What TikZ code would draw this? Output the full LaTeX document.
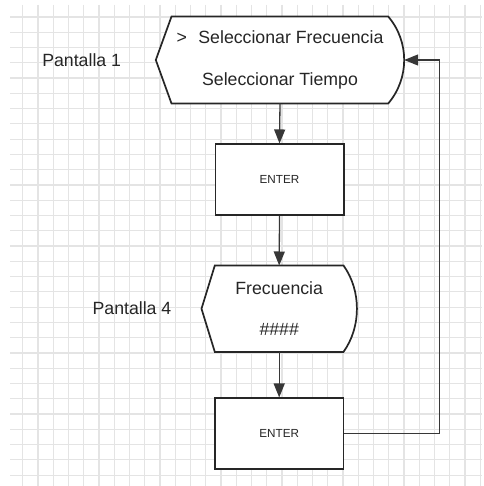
\documentclass[tikz,border=0pt]{standalone}
\usepackage{fontspec}
\setmainfont{Liberation Sans}
\usetikzlibrary{arrows.meta,calc,backgrounds}
\definecolor{gridgray}{RGB}{228,228,228}
\definecolor{ink}{RGB}{38,38,38}
\definecolor{wire}{RGB}{55,55,55}

% outline of a display symbol: slanted left point, bulging right side
% #1 node name, #2 left inset, #3 right inset, #4 bulge of the control points
\newcommand\drawdisplay[4]{%
  \draw[displine] (#1.west)
    -- ($(#1.north west)+(#2,0)$)
    -- ($(#1.north east)+(-#3,0)$)
    .. controls ($(#1.north east)+(#4,25)$) and ($(#1.south east)+(#4,-25)$) ..
       ($(#1.south east)+(-#3,0)$)
    -- ($(#1.south west)+(#2,0)$)
    -- cycle;}

\begin{document}
\begin{tikzpicture}[x=1pt,y=-1pt,
  displine/.style={draw=ink, line width=1.7pt, fill=white, line join=miter},
  dispnode/.style={inner sep=0pt, align=center, text=ink,
    font=\fontsize{17.7}{41.5}\selectfont},
  stepbox/.style={draw=ink, line width=1.7pt, fill=white, inner sep=0pt,
    minimum width=128.3pt, minimum height=71pt, text=ink,
    font=\fontsize{11.7}{14}\selectfont},
  sidetext/.style={inner sep=0pt, text=ink, font=\fontsize{17.7}{20}\selectfont},
  flow/.style={draw=wire, line width=1.3pt, -{Triangle[length=14pt,width=11pt]}}
]
\useasboundingbox (0,0) rectangle (483,486);

% squared paper
\begin{scope}[on background layer]
  \fill[white] (0,0) rectangle (483,486);
  \foreach \k in {0,...,30} {
    \draw[gridgray, line width=1.2pt] (22.7+15.25*\k,5) -- (22.7+15.25*\k,486);
    \draw[gridgray, line width=1.2pt] (10,17+15.27*\k) -- (482,17+15.27*\k);
  }
\end{scope}

% screens
\node[dispnode, minimum width=248pt, minimum height=86.6pt] (p1) at (280,60)
  {\textgreater\hspace{11.5pt}Seleccionar Frecuencia\\Seleccionar Tiempo};
\node[dispnode, minimum width=155pt, minimum height=86pt] (p4) at (279.2,308.7)
  {Frecuencia\\\#\#\#\#};

\begin{scope}[on background layer]
  \drawdisplay{p1}{15.7}{16}{5.3}
  \drawdisplay{p4}{13.3}{13.4}{4.5}
\end{scope}

% screen captions
\node[sidetext] (lab1) at (81.7,60) {Pantalla 1};
\node[sidetext] (lab4) at (132,308.3) {Pantalla 4};

% key presses
\node[stepbox] (e1) at (279.5,179.8) {ENTER};
\node[stepbox] (e2) at (279.2,433.8) {ENTER};

% flow
\draw[flow] (p1.south) -- (e1.north);
\draw[flow] (e1.south) -- (p4.north);
\draw[flow] (p4.south) -- (e2.north);
\coordinate (ret) at (439.3,60);
\draw[flow] (e2.east) -| (ret) -- (p1.east);
\end{tikzpicture}
\end{document}
